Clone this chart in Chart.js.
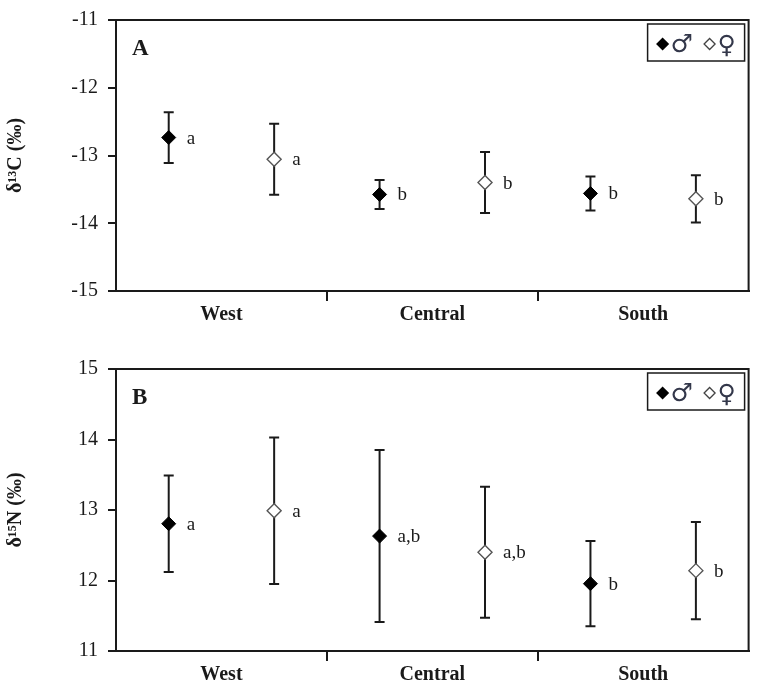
<!DOCTYPE html>
<html><head><meta charset="utf-8">
<script src="https://cdn.jsdelivr.net/npm/chart.js@4/dist/chart.umd.min.js"></script>
<style>
html,body{margin:0;padding:0;background:#fff;}
#wrap{width:757px;height:685px;position:relative;overflow:hidden;}
canvas{position:absolute;left:0;display:block;}
</style></head><body>
<div id="wrap">
<canvas id="c1" width="757" height="340" style="top:0"></canvas>
<canvas id="c2" width="757" height="345" style="top:340px"></canvas>
</div>
<script>
// ---- data ----
const categories = ['West', 'Central', 'South'];
const categoryCentres = [0.5, 1.5, 2.5];
const carbonMale = [-12.735, -13.575, -13.56];
const carbonMaleSD = [0.375, 0.215, 0.25];
const carbonFemale = [-13.055, -13.40, -13.64];
const carbonFemaleSD = [0.525, 0.45, 0.35];
const carbonMaleLetters = ['a', 'b', 'b'];
const carbonFemaleLetters = ['a', 'b', 'b'];
const carbonTicks = [-15, -14, -13, -12, -11];
const nitrogenMale = [12.805, 12.63, 11.955];
const nitrogenMaleSD = [0.685, 1.22, 0.605];
const nitrogenFemale = [12.99, 12.40, 12.14];
const nitrogenFemaleSD = [1.04, 0.93, 0.69];
const nitrogenMaleLetters = ['a', 'a,b', 'b'];
const nitrogenFemaleLetters = ['a', 'a,b', 'b'];
const nitrogenTicks = [11, 12, 13, 14, 15];
const legendLabels = ['\u2642', '\u2640'];

const SEX_OFFSET = 0.25;
const INK = '#1a1a1a';
const SERIF = '"Liberation Serif", "Times New Roman", serif';

function buildDatasets(male, maleSD, female, femaleSD) {
  const whiskers = [], caps = [], m = [], f = [];
  categories.forEach((c, i) => {
    const xm = categoryCentres[i] - SEX_OFFSET, xf = categoryCentres[i] + SEX_OFFSET;
    [[xm, male[i], maleSD[i]], [xf, female[i], femaleSD[i]]].forEach(([x, v, s]) => {
      whiskers.push({x, y: v - s}, {x, y: v + s}, {x, y: null});
      caps.push({x, y: v - s}, {x, y: v + s});
    });
    m.push({x: xm, y: male[i]});
    f.push({x: xf, y: female[i]});
  });
  return [
    {label: legendLabels[0], data: m, pointStyle: 'rectRot', pointRadius: 7, pointHoverRadius: 7,
     backgroundColor: '#000', borderColor: '#000', borderWidth: 1, showLine: false},
    {label: legendLabels[1], data: f, pointStyle: 'rectRot', pointRadius: 7, pointHoverRadius: 7,
     backgroundColor: '#fff', borderColor: '#555', borderWidth: 1.4, showLine: false},
    {label: 'caps', data: caps, pointStyle: 'line', pointRadius: 5, pointHoverRadius: 5,
     borderColor: INK, pointBorderColor: INK, pointBorderWidth: 2, backgroundColor: INK, showLine: false},
    {label: 'whiskers', data: whiskers, showLine: true, spanGaps: false, pointRadius: 0, pointHoverRadius: 0,
     borderColor: INK, borderWidth: 2, fill: false}
  ];
}

const decor = {
  id: 'decor',
  afterDatasetsDraw(chart, args, o) {
    const ctx = chart.ctx, a = chart.chartArea;
    ctx.save();
    // top and right frame
    ctx.strokeStyle = INK; ctx.lineWidth = 2;
    ctx.beginPath();
    ctx.moveTo(a.left, a.top); ctx.lineTo(a.right, a.top); ctx.lineTo(a.right, a.bottom);
    ctx.stroke();
    // panel letter
    ctx.fillStyle = INK;
    ctx.font = 'bold 23px ' + SERIF;
    ctx.textBaseline = 'alphabetic'; ctx.textAlign = 'left';
    ctx.fillText(o.panel, a.left + 16, a.top + 35);
    // significance letters
    ctx.font = '19px ' + SERIF;
    [0, 1].forEach(di => {
      const meta = chart.getDatasetMeta(di);
      meta.data.forEach((pt, i) => {
        ctx.fillText(o.letters[di][i], pt.x + 18, pt.y + 6);
      });
    });
    // legend
    const bx = a.right - 101, by = a.top + 4;
    ctx.lineWidth = 1.5; ctx.strokeStyle = INK;
    ctx.strokeRect(bx, by, 97, 37);
    const cy = by + 20;
    ctx.fillStyle = '#000'; ctx.strokeStyle = '#000';
    Chart.helpers.drawPoint(ctx, {pointStyle: 'rectRot', radius: 5.5, borderWidth: 1, rotation: 0}, bx + 15, cy);
    ctx.fillStyle = '#fff'; ctx.strokeStyle = '#444'; ctx.lineWidth = 1.3;
    Chart.helpers.drawPoint(ctx, {pointStyle: 'rectRot', radius: 5.5, borderWidth: 1.3, rotation: 0}, bx + 62, cy);
    ctx.fillStyle = '#33374a';
    ctx.font = '25px "DejaVu Sans", sans-serif';
    ctx.textBaseline = 'middle';
    ctx.fillText(chart.data.datasets[0].label, bx + 23, cy + 1);
    ctx.fillText(chart.data.datasets[1].label, bx + 70, cy + 2);
    ctx.restore();
  }
};

function makeChart(id, cfg) {
  return new Chart(document.getElementById(id), {
    type: 'scatter',
    data: {datasets: buildDatasets(cfg.male, cfg.maleSD, cfg.female, cfg.femaleSD)},
    options: {
      responsive: false,
      animation: false,
      layout: {padding: {left: 0, right: 4, top: cfg.padTop, bottom: 0}},
      plugins: {
        legend: {display: false},
        tooltip: {enabled: false},
        decor: {panel: cfg.panel, letters: cfg.letters}
      },
      scales: {
        x: {
          type: 'linear', min: 0, max: 3,
          afterBuildTicks: s => { s.ticks = categoryCentres.map(v => ({value: v})); },
          afterFit: s => { s.height = cfg.xHeight; },
          ticks: {
            autoSkip: false, maxRotation: 0, padding: 4, color: INK,
            font: {family: SERIF, size: 20, weight: 'bold', lineHeight: 1},
            callback: (v, i) => categories[i]
          },
          grid: {
            offset: true, drawOnChartArea: false, drawTicks: true, tickLength: 10, lineWidth: 2,
            color: c => (c.index === 1 || c.index === 2) ? INK : 'rgba(0,0,0,0)'
          },
          border: {display: true, color: INK, width: 2}
        },
        y: {
          min: cfg.ticks[0], max: cfg.ticks[cfg.ticks.length - 1],
          afterBuildTicks: s => { s.ticks = cfg.ticks.map(v => ({value: v})); },
          afterFit: s => { s.width = 116; },
          ticks: {
            padding: 10, color: INK,
            font: {family: SERIF, size: 20, lineHeight: 1},
            callback: v => String(v)
          },
          grid: {drawOnChartArea: false, drawTicks: true, tickLength: 8, lineWidth: 2, color: INK},
          border: {display: true, color: INK, width: 2},
          title: {
            display: true, text: cfg.title, color: INK, padding: {top: 4, bottom: 0},
            font: {family: SERIF, size: 20, weight: 'bold', lineHeight: 1.2}
          }
        }
      }
    },
    plugins: [decor]
  });
}

makeChart('c1', {
  male: carbonMale, maleSD: carbonMaleSD, female: carbonFemale, femaleSD: carbonFemaleSD,
  letters: [carbonMaleLetters, carbonFemaleLetters], ticks: carbonTicks,
  title: '\u03b4\u00b9\u00b3C (\u2030)', panel: 'A', padTop: 10, xHeight: 49
});
makeChart('c2', {
  male: nitrogenMale, maleSD: nitrogenMaleSD, female: nitrogenFemale, femaleSD: nitrogenFemaleSD,
  letters: [nitrogenMaleLetters, nitrogenFemaleLetters], ticks: nitrogenTicks,
  title: '\u03b4\u00b9\u2075N (\u2030)', panel: 'B', padTop: 29, xHeight: 34
});
</script>
</body></html>
